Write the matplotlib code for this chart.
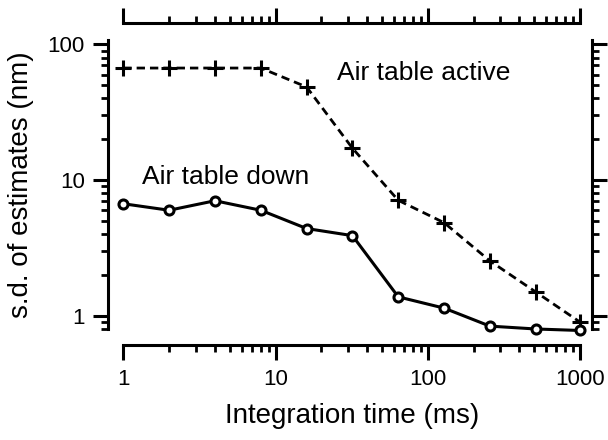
import matplotlib
matplotlib.use("Agg")
import matplotlib.pyplot as plt
from matplotlib.ticker import LogLocator, NullFormatter, FixedLocator

plt.rcParams['font.family'] = ['Liberation Sans', 'DejaVu Sans']

integration_ms = [1, 2, 4, 8, 16, 32, 64, 128, 256, 512, 1000]
sd_active = [67, 67, 67, 67, 48.6, 17.2, 7.1, 4.86, 2.54, 1.50, 0.90]
sd_down = [6.7, 6.0, 7.05, 6.0, 4.4, 3.9, 1.38, 1.14, 0.84, 0.80, 0.78]
xtick_vals = [1, 10, 100, 1000]
xtick_labels = ["1", "10", "100", "1000"]
ytick_vals = [1, 10, 100]
ytick_labels = ["1", "10", "100"]

fig = plt.figure(figsize=(6.08, 4.40), dpi=100)
ax = fig.add_axes([0.2028, 0.2523, 0.7511, 0.657])

ax.plot(integration_ms, sd_active, color='black', lw=2.0, ls=(0, (3.0, 1.8)),
        marker='+', ms=11, mew=2.2, clip_on=False)
ax.plot(integration_ms, sd_down, color='black', lw=2.2, ls='-',
        marker='o', ms=6.5, mew=2.2, mfc='white', clip_on=False)

ax.set_xscale('log')
ax.set_yscale('log')
ax.set_xlim(1, 1000)
ax.set_ylim(0.8, 108)

for side, off in [('left', 10.8), ('right', 8.6), ('bottom', 11.5), ('top', 12.2)]:
    ax.spines[side].set_position(('outward', off))
    ax.spines[side].set_linewidth(2.2)

ax.xaxis.set_major_locator(FixedLocator(xtick_vals))
ax.set_xticklabels(xtick_labels)
ax.yaxis.set_major_locator(FixedLocator(ytick_vals))
ax.set_yticklabels(ytick_labels)
ax.xaxis.set_minor_locator(LogLocator(base=10, subs=range(2, 10)))
ax.yaxis.set_minor_locator(LogLocator(base=10, subs=range(2, 10)))
ax.xaxis.set_minor_formatter(NullFormatter())
ax.yaxis.set_minor_formatter(NullFormatter())

ax.tick_params(which='major', direction='out', length=11, width=2.2,
               labelsize=16, top=True, right=True, labeltop=False, labelright=False,
               pad=6)
ax.tick_params(which='minor', direction='out', length=5, width=2.0,
               top=True, right=True)

ax.set_xlabel("Integration time (ms)", fontsize=20, labelpad=10)
ax.set_ylabel("s.d. of estimates (nm)", fontsize=20, labelpad=10)

ax.text(0.469, 0.886, "Air table active", transform=ax.transAxes, fontsize=19,
        ha='left', va='center')
ax.text(0.041, 0.526, "Air table down", transform=ax.transAxes, fontsize=19,
        ha='left', va='center')

fig.savefig("out.png", dpi=100)
